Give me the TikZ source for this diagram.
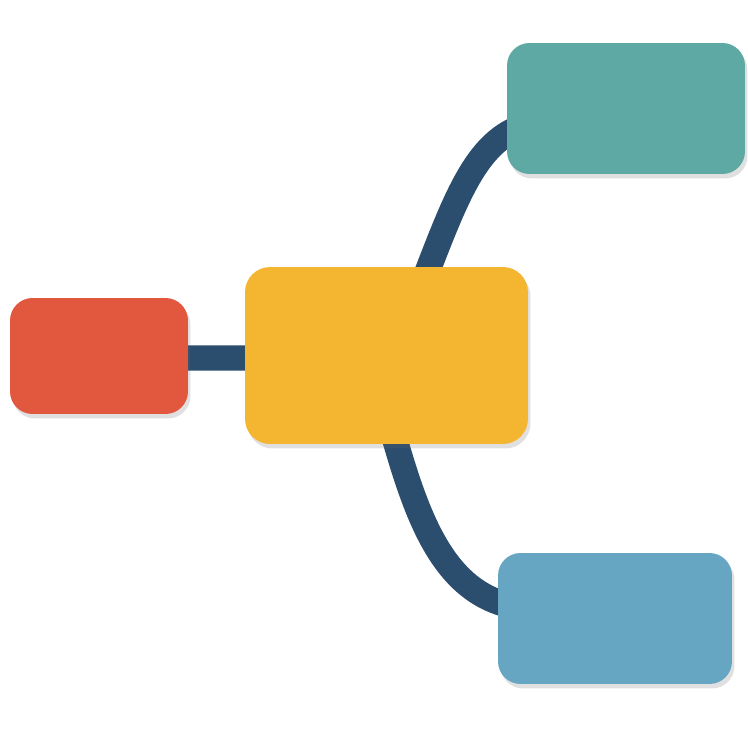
\documentclass[tikz,border=0pt]{standalone}
\usetikzlibrary{shadows,calc}
\definecolor{cRed}{HTML}{E2583E}
\definecolor{cYel}{HTML}{F4B531}
\definecolor{cTeal}{HTML}{5EA9A4}
\definecolor{cBlue}{HTML}{66A6C3}
\definecolor{cNavy}{HTML}{2B4D6E}
\tikzset{
  card/.style={rectangle, rounded corners=0.45cm, inner sep=0pt,
    drop shadow={shadow xshift=0.05cm, shadow yshift=-0.09cm, opacity=0.2, fill=black!60}},
  conn/.style={draw=cNavy, line width=14.5pt, line cap=butt}
}
\begin{document}
\begin{tikzpicture}[x=0.02cm,y=-0.02cm]
\useasboundingbox (0,0) rectangle (748,748);
\path (99,356) coordinate (redc) (386.5,355.5) coordinate (yelc)
      (626,108.5) coordinate (tealc) (615,618.5) coordinate (bluec);
\draw[conn] ($(redc)+(80,2)$) -- ($(yelc)+(-130,2.5)$);
\draw[conn] ($(yelc)+(33.5,-65)$) .. controls ($(yelc)+(68.5,-155)$) and ($(yelc)+(88.5,-215)$) .. ($(tealc)+(-100,17)$);
\draw[conn] ($(yelc)+(5.5,74)$) .. controls ($(yelc)+(28.5,154)$) and ($(yelc)+(53.5,234)$) .. ($(bluec)+(-105,-13)$);
\node[card, fill=cRed, minimum width=3.56cm, minimum height=2.32cm] (red) at (redc) {};
\node[card, fill=cYel, minimum width=5.66cm, minimum height=3.54cm, rounded corners=0.5cm] (yel) at (yelc) {};
\node[card, fill=cTeal, minimum width=4.76cm, minimum height=2.62cm] (teal) at (tealc) {};
\node[card, fill=cBlue, minimum width=4.68cm, minimum height=2.62cm] (blue) at (bluec) {};
\end{tikzpicture}
\end{document}
